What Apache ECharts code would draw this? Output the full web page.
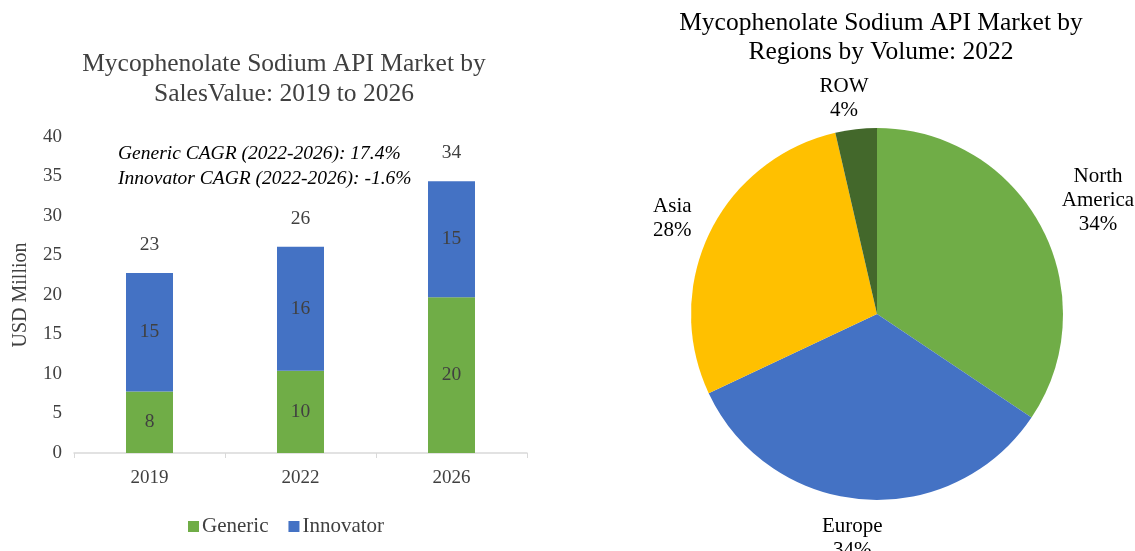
<!DOCTYPE html>
<html>
<head>
<meta charset="utf-8">
<script src="https://cdn.jsdelivr.net/npm/echarts@6/dist/echarts.min.js"></script>
<style>
    html, body { margin: 0; padding: 0; background: #fff; }
    #chart { width: 1135px; height: 551px; }
</style>
</head>
<body>
<div id="chart"></div>
<script>
    var years = ['2019', '2022', '2026'];
    var generic = [7.8, 10.4, 19.7];
    var innovator = [15.0, 15.7, 14.7];
    var regions = ['North\nAmerica', 'Europe', 'Asia', 'ROW'];
    var regionShare = [34.4, 33.6, 28.4, 3.6];
    var regionColors = ['#70AD47', '#4472C4', '#FFC000', '#43682B'];

    var serif = 'Liberation Serif';
    var pieCenter = [877, 314];
    var pieRadius = 186;
    var chart = echarts.init(document.getElementById('chart'));

    // totals for the label above each stack
    var totals = [];
    for (var i = 0; i < years.length; i++) {
        totals.push(+(generic[i] + innovator[i]).toFixed(1));
    }

    var pieData = [];
    for (var k = 0; k < regions.length; k++) {
        pieData.push({ name: regions[k], value: regionShare[k], itemStyle: { color: regionColors[k] } });
    }

    function intLabel(p) {
        return Math.round(p.value);
    }

    var option = {
        animation: false,
        textStyle: { fontFamily: serif },
        title: [{
            text: 'Mycophenolate Sodium API Market by\nSalesValue: 2019 to 2026',
            left: 279,
            top: 44,
            textAlign: 'center',
            textStyle: { fontFamily: serif, fontSize: 25.5, fontWeight: 'normal', color: '#404040', lineHeight: 30 }
        }, {
            text: 'Mycophenolate Sodium API Market by\nRegions by Volume: 2022',
            left: 876,
            top: 4,
            textAlign: 'center',
            textStyle: { fontFamily: serif, fontSize: 25.5, fontWeight: 'normal', color: '#000', lineHeight: 29 }
        }],
        graphic: [{
            type: 'text',
            left: 118,
            top: 141,
            style: {
                text: 'Generic CAGR (2022-2026): 17.4%\nInnovator CAGR (2022-2026): -1.6%',
                font: 'italic 19.5px "Liberation Serif"',
                fill: '#000',
                lineHeight: 25
            }
        }],
        legend: {
            data: ['Generic', 'Innovator'],
            top: 511,
            left: 183,
            itemWidth: 11,
            itemHeight: 11,
            itemGap: 20,
            icon: 'rect',
            textStyle: { fontFamily: serif, fontSize: 21, color: '#404040', padding: [0, 0, 0, -2] }
        },
        grid: { left: 74, right: 608, top: 137, bottom: 98 },
        xAxis: {
            type: 'category',
            data: years,
            axisLine: { lineStyle: { color: '#d9d9d9', width: 1.5 } },
            axisTick: { show: true, length: 5, lineStyle: { color: '#d9d9d9' } },
            axisLabel: { fontFamily: serif, fontSize: 19, color: '#404040', margin: 16 }
        },
        yAxis: {
            type: 'value',
            min: 0,
            max: 40,
            interval: 5,
            name: 'USD Million',
            nameLocation: 'middle',
            nameGap: 43,
            nameTextStyle: { fontFamily: serif, fontSize: 20, color: '#404040' },
            splitLine: { show: false },
            axisLine: { show: false },
            axisLabel: { fontFamily: serif, fontSize: 19, color: '#404040', margin: 12 }
        },
        series: [{
            name: 'Generic',
            type: 'bar',
            stack: 'a',
            barWidth: 47,
            data: generic,
            itemStyle: { color: '#70AD47' },
            label: { show: true, position: 'inside', fontFamily: serif, fontSize: 19.5, color: '#404040', formatter: intLabel }
        }, {
            name: 'Innovator',
            type: 'bar',
            stack: 'a',
            barWidth: 47,
            data: innovator,
            itemStyle: { color: '#4472C4' },
            label: { show: true, position: 'inside', fontFamily: serif, fontSize: 19.5, color: '#404040', formatter: intLabel }
        }, {
            name: 'Total',
            type: 'bar',
            barWidth: 47,
            barGap: '-100%',
            z: 0,
            data: totals,
            itemStyle: { color: 'rgba(0,0,0,0)' },
            label: { show: true, position: 'top', distance: 18, fontFamily: serif, fontSize: 19.5, color: '#404040', formatter: intLabel }
        }, {
            name: 'Regions',
            type: 'pie',
            center: pieCenter,
            radius: pieRadius,
            startAngle: 90,
            clockwise: true,
            data: pieData,
            label: {
                show: true,
                position: 'outside',
                fontFamily: serif,
                fontSize: 21,
                color: '#000',
                lineHeight: 24,
                align: 'center',
                overflow: 'none',
                formatter: function (p) { return p.name + '\n' + Math.round(p.percent) + '%'; }
            },
            labelLine: { show: false, length: 10, length2: 0 },
            // push each label out along its slice's mid direction, like Excel does
            labelLayout: function (p) {
                var pts = p.labelLinePoints;
                var dx = pts[0][0] - pieCenter[0];
                var dy = pts[0][1] - pieCenter[1];
                var len = Math.sqrt(dx * dx + dy * dy) || 1;
                dx /= len; dy /= len;
                var w = Math.min(p.labelRect.width, 80), h = p.labelRect.height;
                var d = pieRadius + 12 + Math.abs(dx) * w * 0.6 + Math.abs(dy) * h * 0.42;
                return {
                    x: pieCenter[0] + dx * d - (Math.abs(dx) < 0.2 ? 8 : 0),
                    y: pieCenter[1] + dy * d + 4,
                    align: 'center',
                    verticalAlign: 'middle'
                };
            }
        }]
    };
    chart.setOption(option);
</script>
</body>
</html>
